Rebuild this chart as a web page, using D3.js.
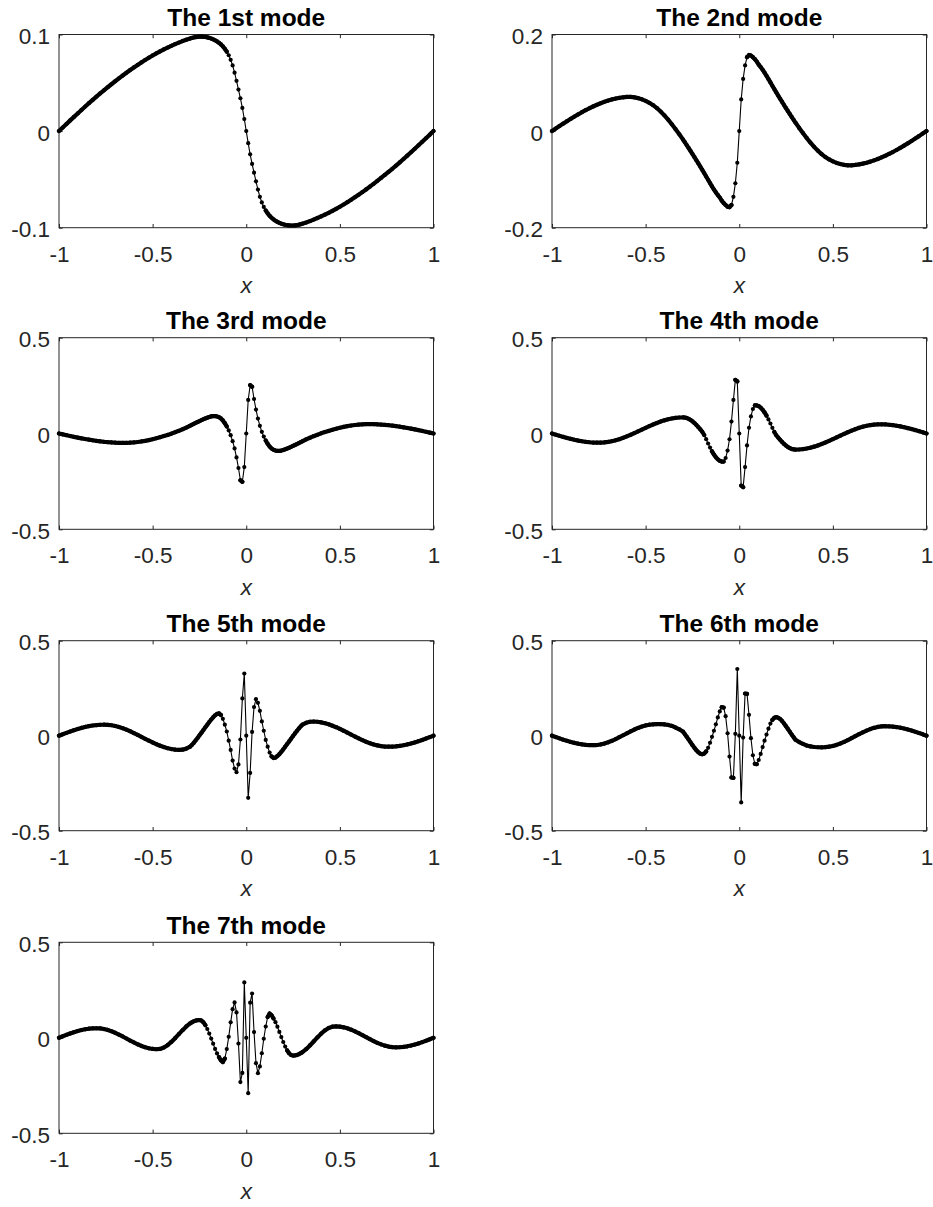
<!DOCTYPE html>
<html><head><meta charset="utf-8">
<script src="https://cdn.jsdelivr.net/npm/d3@7"></script>
<style>
body{margin:0;background:#fff}
svg{display:block}
text{font-family:"Liberation Sans",Arial,Helvetica,sans-serif}
</style>
</head><body>
<svg id="c" width="933" height="1207"></svg>
<script>
// shared discretisation grid (x)
const xGrid = [-1.00,-0.98,-0.96,-0.94,-0.92,-0.90,-0.88,-0.86,-0.84,-0.82,-0.80,-0.78,-0.76,-0.74,-0.72,-0.70,-0.68,-0.66,-0.64,-0.62,-0.60,-0.58,-0.56,-0.54,-0.52,-0.50,-0.48,-0.46,-0.44,-0.42,-0.40,-0.38,-0.36,-0.34,-0.32,-0.30,
-0.2912,-0.2808,-0.2704,-0.2600,-0.2496,-0.2392,-0.2288,-0.2184,-0.2080,-0.1976,-0.1872,-0.1768,-0.1664,-0.1560,-0.1456,-0.1352,-0.1248,-0.1144,-0.1040,-0.0936,-0.0832,-0.0728,-0.0624,-0.0520,-0.0416,-0.0312,-0.0208,-0.0104,
0,
0.0104,0.0208,0.0312,0.0416,0.0520,0.0624,0.0728,0.0832,0.0936,0.1040,0.1144,0.1248,0.1352,0.1456,0.1560,0.1664,0.1768,0.1872,0.1976,0.2080,0.2184,0.2288,0.2392,0.2496,0.2600,0.2704,0.2808,0.2912,
0.30,0.32,0.34,0.36,0.38,0.40,0.42,0.44,0.46,0.48,0.50,0.52,0.54,0.56,0.58,0.60,0.62,0.64,0.66,0.68,0.70,0.72,0.74,0.76,0.78,0.80,0.82,0.84,0.86,0.88,0.90,0.92,0.94,0.96,0.98,1.00];

const mode1 = [0.0000,0.0037,0.0074,0.0111,0.0147,0.0183,0.0219,0.0254,0.0289,0.0323,0.0357,0.0390,0.0422,0.0454,0.0485,0.0516,0.0546,0.0575,0.0604,0.0632,0.0659,0.0685,0.0711,0.0736,0.0760,0.0783,0.0805,0.0826,0.0846,0.0865,0.0883,0.0900,0.0916,0.0932,0.0946,0.0958,
0.0964,0.0969,0.0973,0.0976,0.0977,0.0977,0.0976,0.0974,0.0970,0.0965,0.0958,0.0950,0.0940,0.0928,0.0914,0.0897,0.0877,0.0852,0.0822,0.0785,0.0738,0.0680,0.0605,0.0520,0.0430,0.0340,0.0240,0.0125,
0,
-0.0125,-0.0240,-0.0340,-0.0430,-0.0520,-0.0605,-0.0680,-0.0738,-0.0785,-0.0822,-0.0852,-0.0877,-0.0897,-0.0914,-0.0928,-0.0940,-0.0950,-0.0958,-0.0965,-0.0970,-0.0974,-0.0976,-0.0977,-0.0977,-0.0976,-0.0973,-0.0969,-0.0964,
-0.0958,-0.0946,-0.0932,-0.0916,-0.0900,-0.0883,-0.0865,-0.0846,-0.0826,-0.0805,-0.0783,-0.0760,-0.0736,-0.0711,-0.0685,-0.0659,-0.0632,-0.0604,-0.0575,-0.0546,-0.0516,-0.0485,-0.0454,-0.0422,-0.0390,-0.0357,-0.0323,-0.0289,-0.0254,-0.0219,-0.0183,-0.0147,-0.0111,-0.0074,-0.0037,0.0000];

const mode2 = [0.0000,0.0052,0.0104,0.0155,0.0205,0.0254,0.0301,0.0347,0.0391,0.0433,0.0473,0.0510,0.0545,0.0577,0.0606,0.0632,0.0655,0.0674,0.0689,0.0700,0.0708,0.0708,0.0699,0.0682,0.0658,0.0626,0.0586,0.0537,0.0477,0.0406,0.0326,0.0238,0.0142,0.0040,-0.0066,-0.0177,
-0.0228,-0.0289,-0.0350,-0.0412,-0.0475,-0.0539,-0.0604,-0.0669,-0.0735,-0.0802,-0.0870,-0.0939,-0.1008,-0.1077,-0.1145,-0.1210,-0.1270,-0.1325,-0.1375,-0.1440,-0.1490,-0.1530,-0.1565,-0.1575,-0.1530,-0.1360,-0.1080,-0.0655,
0,
0.0655,0.1080,0.1360,0.1530,0.1575,0.1565,0.1530,0.1490,0.1440,0.1375,0.1325,0.1270,0.1210,0.1145,0.1077,0.1008,0.0939,0.0870,0.0802,0.0735,0.0669,0.0604,0.0539,0.0475,0.0412,0.0350,0.0289,0.0228,
0.0177,0.0066,-0.0040,-0.0142,-0.0238,-0.0326,-0.0406,-0.0477,-0.0537,-0.0586,-0.0626,-0.0658,-0.0682,-0.0699,-0.0708,-0.0708,-0.0700,-0.0689,-0.0674,-0.0655,-0.0632,-0.0606,-0.0577,-0.0545,-0.0510,-0.0473,-0.0433,-0.0391,-0.0347,-0.0301,-0.0254,-0.0205,-0.0155,-0.0104,-0.0052,0.0000];

const mode3 = [0.0000,-0.0045,-0.0089,-0.0132,-0.0174,-0.0214,-0.0252,-0.0288,-0.0322,-0.0354,-0.0383,-0.0409,-0.0432,-0.0452,-0.0468,-0.0480,-0.0488,-0.0491,-0.0488,-0.0479,-0.0464,-0.0443,-0.0416,-0.0383,-0.0344,-0.0299,-0.0249,-0.0194,-0.0135,-0.0073,-0.0008,0.0064,0.0140,0.0222,0.0310,0.0405,
0.0448,0.0499,0.0550,0.0600,0.0650,0.0698,0.0743,0.0786,0.0825,0.0862,0.0890,0.0905,0.0905,0.0888,0.0852,0.0785,0.0680,0.0540,0.0365,0.0160,-0.0090,-0.0400,-0.0780,-0.1250,-0.1800,-0.2440,-0.2520,-0.1750,
0,
0.1750,0.2520,0.2440,0.1800,0.1250,0.0780,0.0400,0.0090,-0.0160,-0.0365,-0.0540,-0.0680,-0.0785,-0.0852,-0.0888,-0.0905,-0.0905,-0.0890,-0.0862,-0.0825,-0.0786,-0.0743,-0.0698,-0.0650,-0.0600,-0.0550,-0.0499,-0.0448,
-0.0405,-0.0310,-0.0222,-0.0140,-0.0064,0.0008,0.0073,0.0135,0.0194,0.0249,0.0299,0.0344,0.0383,0.0416,0.0443,0.0464,0.0479,0.0488,0.0491,0.0488,0.0480,0.0468,0.0452,0.0432,0.0409,0.0383,0.0354,0.0322,0.0288,0.0252,0.0214,0.0174,0.0132,0.0089,0.0045,0.0000];

const mode4 = [0.0000,-0.0060,-0.0119,-0.0177,-0.0231,-0.0282,-0.0329,-0.0370,-0.0405,-0.0434,-0.0457,-0.0472,-0.0479,-0.0478,-0.0466,-0.0440,-0.0403,-0.0354,-0.0295,-0.0226,-0.0150,-0.0067,0.0020,0.0111,0.0203,0.0295,0.0384,0.0469,0.0549,0.0622,0.0686,0.0740,0.0783,0.0814,0.0834,0.0840,
0.0833,0.0809,0.0766,0.0707,0.0632,0.0543,0.0442,0.0332,0.0214,0.0091,-0.0080,-0.0297,-0.0523,-0.0735,-0.0929,-0.1099,-0.1240,-0.1350,-0.1426,-0.1465,-0.1465,-0.1280,-0.0890,-0.0300,0.0620,0.1750,0.2800,0.2720,
0,
-0.2720,-0.2800,-0.1750,-0.0620,0.0300,0.0890,0.1280,0.1465,0.1465,0.1426,0.1350,0.1240,0.1099,0.0929,0.0735,0.0523,0.0297,0.0080,-0.0091,-0.0214,-0.0332,-0.0442,-0.0543,-0.0632,-0.0707,-0.0766,-0.0809,-0.0833,
-0.0840,-0.0834,-0.0814,-0.0783,-0.0740,-0.0686,-0.0622,-0.0549,-0.0469,-0.0384,-0.0295,-0.0203,-0.0111,-0.0020,0.0067,0.0150,0.0226,0.0295,0.0354,0.0403,0.0440,0.0466,0.0478,0.0479,0.0472,0.0457,0.0434,0.0405,0.0370,0.0329,0.0282,0.0231,0.0177,0.0119,0.0060,0.0000];

const mode5 = [0.0000,0.0076,0.0150,0.0222,0.0290,0.0353,0.0410,0.0460,0.0502,0.0536,0.0560,0.0575,0.0580,0.0572,0.0549,0.0511,0.0459,0.0394,0.0318,0.0233,0.0140,0.0042,-0.0060,-0.0161,-0.0261,-0.0357,-0.0447,-0.0527,-0.0598,-0.0657,-0.0702,-0.0733,-0.0748,-0.0735,-0.0680,-0.0580,
-0.0495,-0.0380,-0.0250,-0.0120,0.0020,0.0160,0.0300,0.0440,0.0580,0.0720,0.0850,0.0970,0.1070,0.1150,0.1170,0.1090,0.0890,0.0580,0.0220,-0.0260,-0.0750,-0.1310,-0.1730,-0.1920,-0.1510,-0.0200,0.1960,0.3270,
0,
-0.3270,-0.1960,0.0200,0.1510,0.1920,0.1730,0.1310,0.0750,0.0260,-0.0220,-0.0580,-0.0890,-0.1090,-0.1170,-0.1150,-0.1070,-0.0970,-0.0850,-0.0720,-0.0580,-0.0440,-0.0300,-0.0160,-0.0020,0.0120,0.0250,0.0380,0.0495,
0.0580,0.0680,0.0735,0.0748,0.0733,0.0702,0.0657,0.0598,0.0527,0.0447,0.0357,0.0261,0.0161,0.0060,-0.0042,-0.0140,-0.0233,-0.0318,-0.0394,-0.0459,-0.0511,-0.0549,-0.0572,-0.0580,-0.0575,-0.0560,-0.0536,-0.0502,-0.0460,-0.0410,-0.0353,-0.0290,-0.0222,-0.0150,-0.0076,0.0000];

const mode6 = [0.0000,-0.0071,-0.0141,-0.0208,-0.0270,-0.0327,-0.0378,-0.0421,-0.0455,-0.0480,-0.0495,-0.0500,-0.0490,-0.0461,-0.0413,-0.0348,-0.0269,-0.0178,-0.0080,0.0024,0.0128,0.0230,0.0325,0.0410,0.0482,0.0539,0.0578,0.0598,0.0610,0.0608,0.0595,0.0565,0.0515,0.0430,0.0335,0.0210,
0.0090,-0.0050,-0.0200,-0.0350,-0.0500,-0.0640,-0.0770,-0.0875,-0.0945,-0.0975,-0.0940,-0.0830,-0.0640,-0.0370,-0.0060,0.0260,0.0600,0.0960,0.1280,0.1500,0.1480,0.1030,0.0130,-0.1100,-0.2200,-0.2220,0.0100,0.3510,
0,
-0.3510,-0.0100,0.2220,0.2200,0.1100,-0.0130,-0.1030,-0.1480,-0.1500,-0.1280,-0.0960,-0.0600,-0.0260,0.0060,0.0370,0.0640,0.0830,0.0940,0.0975,0.0945,0.0875,0.0770,0.0640,0.0500,0.0350,0.0200,0.0050,-0.0090,
-0.0210,-0.0335,-0.0430,-0.0515,-0.0565,-0.0595,-0.0608,-0.0610,-0.0598,-0.0578,-0.0539,-0.0482,-0.0410,-0.0325,-0.0230,-0.0128,-0.0024,0.0080,0.0178,0.0269,0.0348,0.0413,0.0461,0.0490,0.0500,0.0495,0.0480,0.0455,0.0421,0.0378,0.0327,0.0270,0.0208,0.0141,0.0071,0.0000];

const mode7 = [0.0000,0.0078,0.0155,0.0227,0.0294,0.0354,0.0405,0.0446,0.0476,0.0494,0.0500,0.0490,0.0459,0.0410,0.0344,0.0263,0.0169,0.0069,-0.0037,-0.0143,-0.0245,-0.0340,-0.0425,-0.0495,-0.0549,-0.0584,-0.0599,-0.0583,-0.0510,-0.0385,-0.0218,-0.0020,0.0192,0.0401,0.0593,0.0751,
0.0806,0.0860,0.0900,0.0922,0.0930,0.0900,0.0810,0.0660,0.0460,0.0220,-0.0040,-0.0310,-0.0580,-0.0820,-0.1010,-0.1180,-0.1270,-0.1090,-0.0590,0.0050,0.0810,0.1500,0.1850,0.1330,-0.0300,-0.2320,-0.1840,0.2900,
0,
-0.2900,0.1840,0.2320,0.0300,-0.1330,-0.1850,-0.1500,-0.0810,-0.0050,0.0590,0.1090,0.1270,0.1180,0.1010,0.0820,0.0580,0.0310,0.0040,-0.0220,-0.0460,-0.0660,-0.0810,-0.0900,-0.0930,-0.0922,-0.0900,-0.0860,-0.0806,
-0.0751,-0.0593,-0.0401,-0.0192,0.0020,0.0218,0.0385,0.0510,0.0583,0.0599,0.0584,0.0549,0.0495,0.0425,0.0340,0.0245,0.0143,0.0037,-0.0069,-0.0169,-0.0263,-0.0344,-0.0410,-0.0459,-0.0490,-0.0500,-0.0494,-0.0476,-0.0446,-0.0405,-0.0354,-0.0294,-0.0227,-0.0155,-0.0078,0.0000];

const titles = ["The 1st mode","The 2nd mode","The 3rd mode","The 4th mode","The 5th mode","The 6th mode","The 7th mode"];
const yDomains = [[-0.1,0.1],[-0.2,0.2],[-0.5,0.5],[-0.5,0.5],[-0.5,0.5],[-0.5,0.5],[-0.5,0.5]];
const yTickValues = [[-0.1,0,0.1],[-0.2,0,0.2],[-0.5,0,0.5],[-0.5,0,0.5],[-0.5,0,0.5],[-0.5,0,0.5],[-0.5,0,0.5]];
const yTickLabels = [["-0.1","0","0.1"],["-0.2","0","0.2"],["-0.5","0","0.5"],["-0.5","0","0.5"],["-0.5","0","0.5"],["-0.5","0","0.5"],["-0.5","0","0.5"]];
const xTickValues = [-1,-0.5,0,0.5,1];
const xTickLabels = ["-1","-0.5","0","0.5","1"];
const xLabel = "x";

// layout
const colX = [59, 552];
const plotW = 374.5;
const rowTop = [34.5, 337.7, 640.7, 942.3];
const rowBot = [227.7, 529.3, 830.7, 1133.3];
const axisColor = "#262626";
const tickFont = 22.5, titleFont = 24.5;
const tickLen = 3.7;
const markerR = 2.1;
const baseStep = 0.0104;   // finest grid step of the discretisation

const svg = d3.select("#c");
const modes = [mode1, mode2, mode3, mode4, mode5, mode6, mode7];

modes.forEach((ys, i) => {
  const r = Math.floor(i / 2), c = i % 2;
  const left = colX[c], right = left + plotW, top = rowTop[r], bot = rowBot[r];
  const x = d3.scaleLinear().domain([-1, 1]).range([left, right]);
  const y = d3.scaleLinear().domain(yDomains[i]).range([bot, top]);
  const g = svg.append("g");

  g.append("rect").attr("x", left).attr("y", top).attr("width", right - left).attr("height", bot - top)
    .attr("fill", "none").attr("stroke", axisColor).attr("stroke-width", 1);

  const styleAxis = sel => {
    sel.select(".domain").remove();
    sel.selectAll(".tick line").attr("stroke", axisColor).attr("stroke-width", 1);
    sel.selectAll(".tick text").attr("fill", axisColor).attr("font-size", tickFont)
      .attr("font-family", '"Liberation Sans",Arial,Helvetica,sans-serif');
  };

  g.append("g").attr("transform", `translate(0,${bot})`)
    .call(d3.axisBottom(x).tickValues(xTickValues).tickFormat((d, j) => xTickLabels[j])
      .tickSizeInner(-tickLen).tickSizeOuter(0).tickPadding(18)).call(styleAxis);
  g.append("g").attr("transform", `translate(0,${top})`)
    .call(d3.axisTop(x).tickValues(xTickValues).tickFormat("").tickSizeInner(-tickLen).tickSizeOuter(0)).call(styleAxis);
  const ya = g.append("g").attr("transform", `translate(${left},0)`)
    .call(d3.axisLeft(y).tickValues(yTickValues[i]).tickFormat((d, j) => yTickLabels[i][j])
      .tickSizeInner(-tickLen).tickSizeOuter(0).tickPadding(9)).call(styleAxis);
  ya.selectAll(".tick text").attr("dy", "0.40em");
  g.append("g").attr("transform", `translate(${right},0)`)
    .call(d3.axisRight(y).tickValues(yTickValues[i]).tickFormat("").tickSizeInner(-tickLen).tickSizeOuter(0)).call(styleAxis);

  g.append("text").attr("x", (left + right) / 2).attr("y", top - 8.5)
    .attr("text-anchor", "middle").attr("font-weight", "bold").attr("font-size", titleFont)
    .attr("fill", "#000").text(titles[i]);
  g.append("text").attr("x", (left + right) / 2).attr("y", bot + 65.6)
    .attr("text-anchor", "middle").attr("font-style", "italic").attr("font-size", tickFont)
    .attr("fill", axisColor).text(xLabel);

  // data
  const pts = xGrid.map((xv, k) => [xv, ys[k]]);
  // where the dense '.' markers of the discretisation overlap they merge into a solid band
  const band = d3.path();
  for (let k = 0; k < pts.length - 1; k++) {
    const ax = x(pts[k][0]), ay = y(pts[k][1]), bx = x(pts[k + 1][0]), by = y(pts[k + 1][1]);
    const dist = Math.hypot(bx - ax, by - ay);
    const perStep = dist * baseStep / (pts[k + 1][0] - pts[k][0]);
    if (perStep < 4.0) { band.moveTo(ax, ay); band.lineTo(bx, by); }
  }
  g.append("path").attr("d", band.toString()).attr("fill", "none").attr("stroke", "#000")
    .attr("stroke-width", 2 * markerR).attr("stroke-linecap", "round");
  const line = d3.line().x(d => x(d[0])).y(d => y(d[1]));
  g.append("path").attr("d", line(pts)).attr("fill", "none").attr("stroke", "#000").attr("stroke-width", 1.1);
  g.selectAll("circle.m").data(pts).enter().append("circle").attr("class", "m")
    .attr("cx", d => x(d[0])).attr("cy", d => y(d[1])).attr("r", markerR).attr("fill", "#000");
});
</script>
</body></html>
